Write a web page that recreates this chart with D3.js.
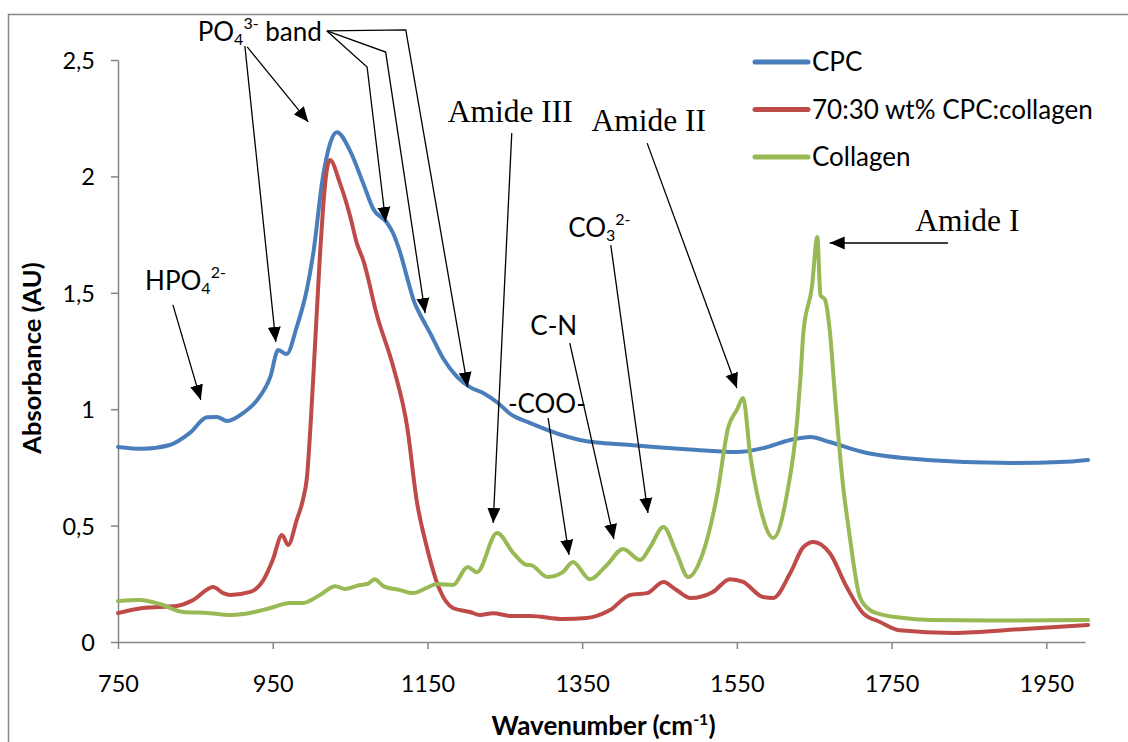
<!DOCTYPE html>
<html>
<head>
<meta charset="utf-8">
<script src="https://cdn.jsdelivr.net/npm/d3@7"></script>
<style>
    body { margin:0; background:#fff; }
    svg { display:block; }
</style>
</head>
<body>
<svg id="chart" width="1128" height="742"></svg>
<script>
// FTIR spectra, wavenumber (cm-1) vs absorbance (AU)
const cpcWavenumbers = [750, 782, 817, 843, 865, 878, 891, 912, 930, 947, 957, 968, 981, 994, 1002, 1015, 1024, 1033, 1050, 1067, 1080, 1098, 1105, 1115, 1125, 1133, 1140, 1153, 1170, 1188, 1205, 1222, 1240, 1257, 1283, 1347, 1412, 1499, 1550, 1584, 1619, 1645, 1670, 1713, 1796, 1903, 1968, 2004];
const cpcAbsorbance = [0.838, 0.830, 0.846, 0.898, 0.965, 0.967, 0.949, 0.984, 1.04, 1.14, 1.254, 1.237, 1.353, 1.512, 1.66, 2.0, 2.14, 2.19, 2.11, 1.97, 1.86, 1.80, 1.76, 1.67, 1.55, 1.46, 1.41, 1.33, 1.22, 1.14, 1.095, 1.07, 1.03, 0.98, 0.94, 0.868, 0.846, 0.825, 0.816, 0.833, 0.868, 0.881, 0.859, 0.816, 0.782, 0.769, 0.773, 0.782];

const blendWavenumbers = [750, 782, 826, 847, 873, 886, 895, 921, 938, 950, 962, 970, 981, 989, 994, 1002, 1011, 1015, 1020, 1024, 1037, 1050, 1059, 1067, 1085, 1106, 1124, 1136, 1149, 1166, 1183, 1205, 1218, 1235, 1257, 1283, 1325, 1356, 1386, 1412, 1434, 1455, 1472, 1490, 1519, 1541, 1558, 1584, 1597, 1619, 1636, 1649, 1670, 1692, 1713, 1735, 1760, 1830, 1921, 2004];
const blendAbsorbance = [0.124, 0.146, 0.155, 0.18, 0.236, 0.21, 0.202, 0.215, 0.266, 0.352, 0.46, 0.417, 0.524, 0.61, 0.70, 1.11, 1.66, 1.86, 2.03, 2.07, 1.97, 1.83, 1.71, 1.64, 1.40, 1.18, 0.92, 0.61, 0.41, 0.223, 0.146, 0.129, 0.116, 0.124, 0.112, 0.112, 0.099, 0.103, 0.137, 0.202, 0.21, 0.258, 0.223, 0.189, 0.215, 0.27, 0.258, 0.193, 0.189, 0.296, 0.408, 0.43, 0.382, 0.236, 0.124, 0.086, 0.05, 0.039, 0.056, 0.073];

const collagenWavenumbers = [750, 778, 804, 834, 869, 895, 912, 947, 972, 989, 1011, 1031, 1043, 1063, 1072, 1082, 1093, 1115, 1131, 1149, 1162, 1183, 1202, 1214, 1240, 1261, 1279, 1283, 1305, 1325, 1338, 1360, 1382, 1403, 1425, 1438, 1455, 1472, 1487, 1506, 1524, 1539, 1550, 1558, 1567, 1580, 1597, 1615, 1628, 1632, 1636, 1647, 1654, 1658, 1664, 1670, 1677, 1686, 1696, 1709, 1722, 1735, 1760, 1800, 1900, 2004];
const collagenAbsorbance = [0.176, 0.18, 0.163, 0.129, 0.124, 0.116, 0.12, 0.146, 0.168, 0.168, 0.202, 0.24, 0.228, 0.245, 0.249, 0.27, 0.24, 0.223, 0.21, 0.232, 0.249, 0.245, 0.322, 0.30, 0.468, 0.382, 0.331, 0.331, 0.279, 0.30, 0.344, 0.27, 0.331, 0.40, 0.352, 0.408, 0.494, 0.382, 0.279, 0.382, 0.623, 0.924, 0.997, 1.048, 0.81, 0.58, 0.447, 0.64, 0.954, 1.125, 1.33, 1.525, 1.74, 1.49, 1.47, 1.34, 1.05, 0.71, 0.45, 0.193, 0.137, 0.12, 0.105, 0.094, 0.092, 0.094];

const seriesNames = ["CPC", "70:30 wt% CPC:collagen", "Collagen"];
const xTickValues = [750, 950, 1150, 1350, 1550, 1750, 1950];
const yTickValues = [0, 0.5, 1, 1.5, 2, 2.5];

// band labels: text parts, anchor point and arrow paths, all in (wavenumber, absorbance)
const bandLabels = [
    { parts:[["HPO"], ["4", "sub"], ["2-", "sup"]], at:[785, 1.512],
      arrows:[ [[821, 1.448], [857, 1.040]] ] },
    { parts:[["PO"], ["4", "sub"], ["3-", "sup"], [" band"]], at:[853, 2.582],
      arrows:[
        [[914, 2.560], [954, 1.289]],
        [[917, 2.556], [996, 2.234]],
        [[1020, 2.625], [1072, 2.470], [1096, 1.804]],
        [[1020, 2.625], [1096, 2.534], [1147, 1.413]],
        [[1020, 2.625], [1122, 2.629], [1202, 1.095]]
      ] },
    { parts:[["Amide III"]], serif:true, at:[1257, 2.234],
      arrows:[ [[1259, 2.186], [1235, 0.511]] ] },
    { parts:[["Amide II"]], serif:true, at:[1436, 2.195],
      arrows:[ [[1434, 2.143], [1550, 1.091]] ] },
    { parts:[["CO"], ["3", "sub"], ["2-", "sup"]], at:[1332, 1.740],
      arrows:[ [[1387, 1.705], [1435, 0.554]] ] },
    { parts:[["C-N"]], at:[1283, 1.319],
      arrows:[ [[1334, 1.284], [1391, 0.442]] ] },
    { parts:[["-COO-"]], at:[1254, 0.984],
      arrows:[ [[1306, 0.962], [1333, 0.374]] ] },
    { parts:[["Amide I"]], serif:true, at:[1848, 1.765],
      arrows:[ [[1823, 1.714], [1670, 1.714]] ] }
];

const COLOURS = { CPC:"#4A7EBB", BLEND:"#BE4B48", COLLAGEN:"#98B954", AXIS:"#868686" };
const SANS = "Lato, 'Open Sans', sans-serif";
const SERIF = "'Liberation Serif', 'Times New Roman', serif";

const width = 1128;
const height = 742;
const margin = { left:118, right:43, top:60, bottom:100 };

const svg = d3.select("#chart");

const x = d3.scaleLinear().domain([750, 2000]).range([margin.left, width - margin.right]);
const y = d3.scaleLinear().domain([0, 2.5]).range([height - margin.bottom, margin.top]);

const series = [
    { name:seriesNames[0], colour:COLOURS.CPC, values:cpcWavenumbers.map((w, i) => [w, cpcAbsorbance[i]]) },
    { name:seriesNames[1], colour:COLOURS.BLEND, values:blendWavenumbers.map((w, i) => [w, blendAbsorbance[i]]) },
    { name:seriesNames[2], colour:COLOURS.COLLAGEN, values:collagenWavenumbers.map((w, i) => [w, collagenAbsorbance[i]]) }
];

//chart area border
svg.append("rect")
    .attr("x", 8.5)
    .attr("y", 14.5)
    .attr("width", 1300)
    .attr("height", 900)
    .attr("fill", "none")
    .attr("stroke", COLOURS.AXIS)
    .attr("stroke-width", 1.5);

const commaFormat = d => String(d).replace(".", ",");

//axes
const xAxisG = svg.append("g")
    .attr("class", "axis x-axis")
    .attr("transform", `translate(0, ${y(0)})`)
    .call(d3.axisBottom(x).tickValues(xTickValues).tickSize(7).tickSizeOuter(0).tickPadding(26).tickFormat(d3.format("d")));

const yAxisG = svg.append("g")
    .attr("class", "axis y-axis")
    .attr("transform", `translate(${x(750)}, 0)`)
    .call(d3.axisLeft(y).tickValues(yTickValues).tickSize(7).tickSizeOuter(0).tickPadding(16).tickFormat(commaFormat));

svg.selectAll("g.axis path, g.axis line")
    .attr("stroke", COLOURS.AXIS)
    .attr("stroke-width", 1.5);
svg.selectAll("g.axis text")
    .attr("font-family", SANS)
    .attr("font-size", 23.5)
    .attr("fill", "#000");
yAxisG.selectAll("text").attr("dy", "0.36em");

//axis titles
svg.append("text")
    .attr("x", (x.range()[0] + x.range()[1]) / 2 + 2)
    .attr("y", 735)
    .attr("text-anchor", "middle")
    .attr("font-family", SANS)
    .attr("font-weight", "bold")
    .attr("font-size", 26)
    .call(t => {
        t.append("tspan").text("Wavenumber (cm");
        t.append("tspan").attr("font-size", 16).attr("dy", -10).text("-1");
        t.append("tspan").attr("dy", 10).text(")");
    });

svg.append("text")
    .attr("transform", `translate(41, ${(y.range()[0] + y.range()[1]) / 2 + 7}) rotate(-90)`)
    .attr("text-anchor", "middle")
    .attr("font-family", SANS)
    .attr("font-weight", "bold")
    .attr("font-size", 25.5)
    .text("Absorbance (AU)");

//spectra
const line = d3.line()
    .x(d => x(d[0]))
    .y(d => y(d[1]))
    .curve(d3.curveMonotoneX);

svg.append("g")
    .attr("class", "spectra")
    .selectAll("path")
    .data(series)
    .join("path")
        .attr("d", d => line(d.values))
        .attr("fill", "none")
        .attr("stroke", d => d.colour)
        .attr("stroke-width", 4)
        .attr("stroke-linejoin", "round")
        .attr("stroke-linecap", "round");

//arrow head
svg.append("defs")
    .append("marker")
        .attr("id", "arrow-head")
        .attr("markerUnits", "userSpaceOnUse")
        .attr("viewBox", "0 -7 15 14")
        .attr("refX", 15)
        .attr("refY", 0)
        .attr("markerWidth", 15)
        .attr("markerHeight", 14)
        .attr("orient", "auto")
    .append("path")
        .attr("d", "M0,-6.5L15,0L0,6.5Z")
        .attr("fill", "#000");

//band labels
const arrowLine = d3.line().x(d => x(d[0])).y(d => y(d[1]));

const labelG = svg.append("g")
    .attr("class", "band-labels")
    .selectAll("g.band-label")
    .data(bandLabels)
    .join("g")
        .attr("class", "band-label");

labelG.selectAll("path.arrow")
    .data(d => d.arrows)
    .join("path")
        .attr("class", "arrow")
        .attr("d", d => arrowLine(d))
        .attr("fill", "none")
        .attr("stroke", "#000")
        .attr("stroke-width", 1.3)
        .attr("marker-end", "url(#arrow-head)");

labelG.append("text")
    .attr("x", d => x(d.at[0]))
    .attr("y", d => y(d.at[1]))
    .attr("text-anchor", d => d.serif ? "middle" : "start")
    .attr("font-family", d => d.serif ? SERIF : SANS)
    .attr("font-size", d => d.serif ? 31.5 : 26)
    .each(function(d){
        const text = d3.select(this);
        let shift = 0;
        d.parts.forEach(([str, pos]) => {
            const target = pos === "sub" ? 4 : pos === "sup" ? -12 : 0;
            text.append("tspan")
                .attr("dy", target - shift)
                .attr("font-size", pos ? 16 : null)
                .text(str);
            shift = target;
        });
    });

//legend
const legendG = svg.append("g")
    .attr("class", "legend")
    .attr("transform", "translate(755, 62)")
    .selectAll("g.legend-item")
    .data(series)
    .join("g")
        .attr("class", "legend-item")
        .attr("transform", (d, i) => `translate(0, ${i * 47.5})`);

legendG.append("line")
    .attr("x1", 0)
    .attr("x2", 53)
    .attr("stroke", d => d.colour)
    .attr("stroke-width", 5)
    .attr("stroke-linecap", "round");

legendG.append("text")
    .attr("x", 57)
    .attr("dy", "0.36em")
    .attr("font-family", SANS)
    .attr("font-size", 26)
    .text(d => d.name);
</script>
</body>
</html>
